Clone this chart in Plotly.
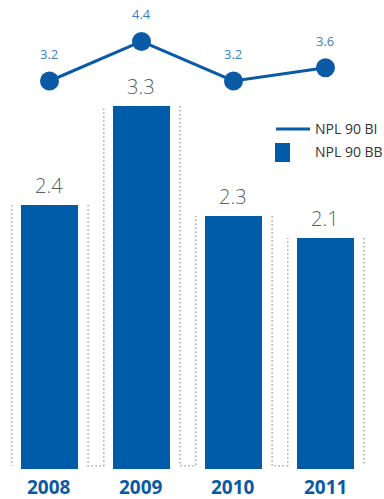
import plotly.graph_objects as go

years = ["2008", "2009", "2010", "2011"]
bb_values = [2.4, 3.3, 2.3, 2.1]
bi_values = [3.2, 4.4, 3.2, 3.6]
legend_line = "NPL 90 BI"
legend_bar = "NPL 90 BB"

BAR_COLOR = "#005ca9"
LINE_COLOR = "#0a5aa6"
LABEL_BLUE = "#3d7fc4"
GREY_TXT = "#5f5f5f"
DOT_COLOR = "#a8a8a8"
FONT = "Open Sans"

xs = list(range(len(years)))

fig = go.Figure()
fig.add_trace(go.Bar(x=xs, y=bb_values, width=0.62, marker=dict(color=BAR_COLOR, line=dict(width=0)),
                     yaxis="y", showlegend=False))
fig.add_trace(go.Scatter(x=xs, y=bi_values, mode="lines+markers", yaxis="y2",
                         line=dict(color=LINE_COLOR, width=3),
                         marker=dict(size=19, color=LINE_COLOR), showlegend=False, cliponaxis=False))

shapes = []
L, R, B = -0.41, 0.42, 0.03
dot = dict(color=DOT_COLOR, width=1.5, dash="1.5px,2.5px")
shapes.append(dict(type="path", xref="x", yref="y",
                   path=f"M {xs[0]+L},{bb_values[0]} L {xs[0]+L},{B}", line=dot))
shapes.append(dict(type="path", xref="x", yref="y",
                   path=f"M {xs[-1]+R},{bb_values[-1]} L {xs[-1]+R},{B}", line=dot))
for i in range(len(xs) - 1):
    p = (f"M {xs[i]+R},{bb_values[i]} L {xs[i]+R},{B} "
         f"L {xs[i+1]+L},{B} L {xs[i+1]+L},{bb_values[i+1]}")
    shapes.append(dict(type="path", xref="x", yref="y", path=p, line=dot))

H = 469.0
def py(p):
    return 1 - p / H
shapes.append(dict(type="line", xref="paper", yref="paper", x0=276/384, x1=310/384,
                   y0=py(129), y1=py(129), line=dict(color=LINE_COLOR, width=3)))
shapes.append(dict(type="rect", xref="paper", yref="paper", x0=275/384, x1=290/384,
                   y0=py(162), y1=py(143), fillcolor=BAR_COLOR, line=dict(width=0)))

ann = []
for x, v in zip(xs, bb_values):
    ann.append(dict(x=x, y=v, xref="x", yref="y", text=f"{v:.1f}", showarrow=False,
                    yanchor="middle", yshift=20,
                    font=dict(family=FONT, size=20, color=GREY_TXT, weight=300)))
for x, v in zip(xs, bi_values):
    ann.append(dict(x=x, y=v, xref="x", yref="y2", text=f"{v:.1f}", showarrow=False,
                    yanchor="middle", yshift=27,
                    font=dict(family=FONT, size=13, color=LABEL_BLUE)))
for x, yr in zip(xs, years):
    ann.append(dict(x=x, y=0, xref="x", yref="y", text=f"<b>{yr}</b>", showarrow=False,
                    yanchor="middle", yshift=-18,
                    font=dict(family=FONT, size=19, color="#0b5aa3")))
ann.append(dict(x=313/384, y=py(129), xref="paper", yref="paper", text=legend_line,
                showarrow=False, xanchor="left", yanchor="middle",
                font=dict(family=FONT, size=14, color="#333333")))
ann.append(dict(x=313/384, y=py(152), xref="paper", yref="paper", text=legend_bar,
                showarrow=False, xanchor="left", yanchor="middle",
                font=dict(family=FONT, size=14, color="#333333")))

axis_off = dict(visible=False, showgrid=False, zeroline=False, fixedrange=True)
fig.update_layout(
    width=384, height=499,
    margin=dict(l=0, r=0, t=0, b=30, pad=0),
    paper_bgcolor="white", plot_bgcolor="white",
    xaxis=dict(range=[-0.538, 3.636], **axis_off),
    yaxis=dict(range=[0, 4.264], **axis_off),
    yaxis2=dict(range=[-8.56, 5.655], overlaying="y", **axis_off),
    shapes=shapes, annotations=ann, bargap=0,
)
fig.write_html("out.html", config=dict(displayModeBar=False))
